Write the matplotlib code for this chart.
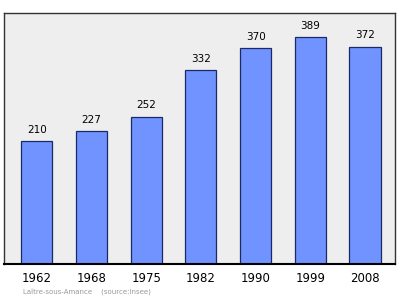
import matplotlib.pyplot as plt
import numpy as np

years = ["1962", "1968", "1975", "1982", "1990", "1999", "2008"]
population = [210, 227, 252, 332, 370, 389, 372]

fig = plt.figure(figsize=(4.0, 2.99), dpi=100)
ax = fig.add_axes([4 / 400, 1 - 264 / 299, 391 / 400, 251 / 299])
ax.set_facecolor("#eeeeee")

x = np.arange(len(years))
bars = ax.bar(x, population, width=0.57, color="#7093ff", edgecolor="#1a2a66",
              linewidth=0.9, zorder=2)

for xi, v in zip(x, population):
    ax.text(xi, v + 11, str(v), ha="center", va="bottom", fontsize=7.5,
            color="black")

ax.set_xlim(-0.6, 6.55)
ax.set_ylim(0, 430)
ax.set_yticks([])
ax.set_xticks(x)
ax.set_xticklabels(years, fontsize=8.5)
ax.tick_params(axis="x", length=0, pad=6)

for side in ["top", "right", "left"]:
    ax.spines[side].set_color("#333333")
    ax.spines[side].set_linewidth(1.0)
ax.spines["bottom"].set_color("black")
ax.spines["bottom"].set_linewidth(1.5)

fig.text(23 / 400, 1 - 293 / 299, "Laître-sous-Amance    (source:Insee)",
         fontsize=5, color="#999999", va="center", ha="left")

fig.savefig("out.png", dpi=100)
